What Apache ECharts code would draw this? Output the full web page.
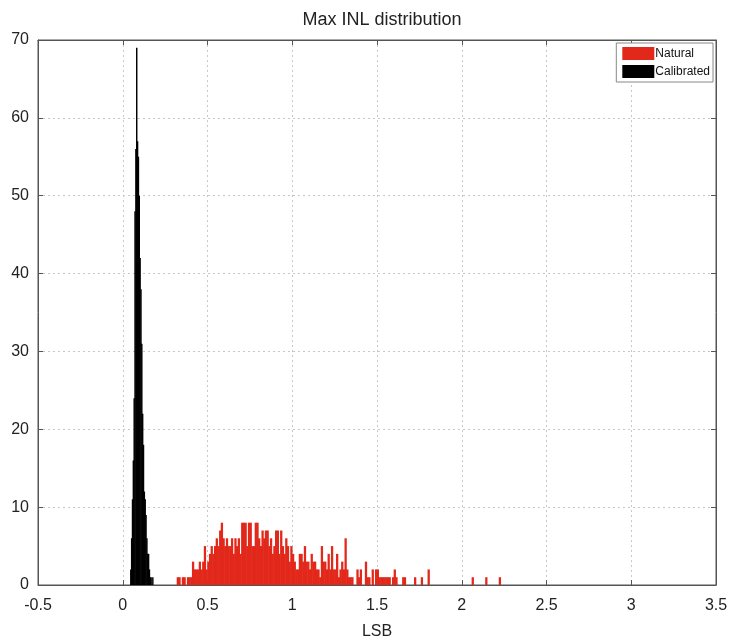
<!DOCTYPE html>
<html>
<head>
<meta charset="utf-8">
<script src="https://cdn.jsdelivr.net/npm/echarts@6/dist/echarts.min.js"></script>
<style>html,body{margin:0;padding:0;background:#fff}#c{width:732px;height:640px}</style>
</head>
<body>
<div id="c"></div>
<script>
// ---- data ----
const chartTitle = 'Max INL distribution';
const xAxisName = 'LSB';
const seriesNames = ['Natural', 'Calibrated'];
const xTicks = [-0.5, 0, 0.5, 1, 1.5, 2, 2.5, 3, 3.5];
const yTicks = [0, 10, 20, 30, 40, 50, 60, 70];

// Natural: histogram counts, bins of width 0.01 starting at 0.32 LSB
const naturalStart = 0.32;
const naturalBinWidth = 0.01;
const naturalCounts = [
  1,1,0,1,1,0,1,1,
  1,3,2,2,2,3,2,3,5,2,
  3,4,5,4,5,6,5,7,8,6,
  5,6,5,5,6,4,6,5,6,4,
  8,8,8,5,8,8,5,5,8,8,
  6,5,7,6,7,7,5,6,4,5,
  7,7,4,7,5,4,6,5,3,5,
  4,3,2,2,4,4,3,5,3,3,
  2,4,3,3,2,2,1,5,3,3,
  2,4,2,5,2,2,4,1,2,3,
  2,6,2,1,1,1,0,0,2,1,
  2,0,0,3,1,1,0,2,0,2,
  2,1,1,1,1,1,1,1,0,1,
  2,1,0,0,0,1,1,0,0,0,
  0,0,1,0,0,0,1,0,0,0,
  2,0,0,0,0,0,0,0,0,0,
  0,0,0,0,0,0,0,0,0,0,
  0,0,0,0,0,0,1,0,0,0,
  0,0,0,0,1,0,0,0,0,0,
  0,0,1
];

// Calibrated: histogram counts, bins of width 0.005 starting at 0.045 LSB
const calibratedStart = 0.045;
const calibratedBinWidth = 0.005;
const calibratedCounts = [2,6,11,16,24,48,56,69,57,55,50,42,38,31,22,18,12,11,9,6,4,4,2,1,1,0,1];

// ---- build ----
function bins(start, w, counts) {
  const out = [];
  counts.forEach((c, i) => {
    if (c > 0) {
      const x0 = +(start + i * w).toFixed(4);
      out.push([x0, +(x0 + w).toFixed(4), c]);
    }
  });
  return out;
}

function renderBar(params, api) {
  const p0 = api.coord([api.value(0), 0]);
  const p1 = api.coord([api.value(1), api.value(2)]);
  return {
    type: 'rect',
    shape: { x: p0[0] - 0.3, y: p1[1], width: Math.max(p1[0] - p0[0], 0.8) + 0.6, height: p0[1] - p1[1] },
    style: { fill: api.visual('color') }
  };
}

const colors = ['#e2281b', '#000000'];
const font = 'Liberation Sans, Arial, sans-serif';
const axisCol = '#555';

function sideAxis(pos, extra) {
  return Object.assign({
    type: 'value', position: pos,
    axisLine: { show: true, onZero: false, lineStyle: { color: axisCol } },
    axisTick: { show: true, inside: true, length: 5, lineStyle: { color: axisCol } },
    axisLabel: { show: false }, splitLine: { show: false }
  }, extra);
}

const chart = echarts.init(document.getElementById('c'), null, { renderer: 'canvas' });
chart.setOption({
  animation: false,
  backgroundColor: '#fff',
  title: {
    text: chartTitle,
    left: 377, top: 6, textAlign: 'center',
    textStyle: { fontFamily: font, fontSize: 18, fontWeight: 'normal', color: '#222' }
  },
  legend: {
    data: seriesNames.map((n, i) => ({ name: n, icon: 'rect', itemStyle: { color: colors[i] } })),
    orient: 'vertical',
    right: 19, top: 43,
    itemWidth: 32, itemHeight: 13, itemGap: 5,
    padding: [4, 3, 4, 6],
    borderColor: '#888', borderWidth: 1,
    backgroundColor: '#fff',
    textStyle: { fontFamily: font, fontSize: 12, color: '#111', padding: [0, 0, 0, -4] }
  },
  grid: { left: 38, right: 16, top: 40, bottom: 55, show: true, borderColor: axisCol, borderWidth: 1,
    outerBoundsMode: 'none', containLabel: false },
  xAxis: [
    sideAxis('bottom', {
      min: xTicks[0], max: xTicks[xTicks.length - 1], interval: 0.5,
      name: xAxisName, nameLocation: 'middle', nameGap: 39,
      nameTextStyle: { fontFamily: font, fontSize: 16, color: '#222' },
      axisLabel: { show: true, fontFamily: font, fontSize: 16, color: '#222', margin: 13,
        formatter: v => String(+v.toFixed(1)) },
      splitLine: { show: true, lineStyle: { color: '#c8c8c8', type: [2, 3], width: 1 } }
    }),
    sideAxis('top', { min: xTicks[0], max: xTicks[xTicks.length - 1], interval: 0.5 })
  ],
  yAxis: [
    sideAxis('left', {
      min: yTicks[0], max: yTicks[yTicks.length - 1], interval: 10,
      axisLabel: { show: true, fontFamily: font, fontSize: 16, color: '#222', margin: 9 },
      splitLine: { show: true, lineStyle: { color: '#c8c8c8', type: [2, 3], width: 1 } }
    }),
    sideAxis('right', { min: yTicks[0], max: yTicks[yTicks.length - 1], interval: 10 })
  ],
  series: [{
    name: seriesNames[0], type: 'custom', renderItem: renderBar,
    itemStyle: { color: colors[0] },
    encode: { x: [0, 1], y: 2 },
    data: bins(naturalStart, naturalBinWidth, naturalCounts), z: 3
  }, {
    name: seriesNames[1], type: 'custom', renderItem: renderBar,
    itemStyle: { color: colors[1] },
    encode: { x: [0, 1], y: 2 },
    data: bins(calibratedStart, calibratedBinWidth, calibratedCounts), z: 4
  }]
});
</script>
</body>
</html>
